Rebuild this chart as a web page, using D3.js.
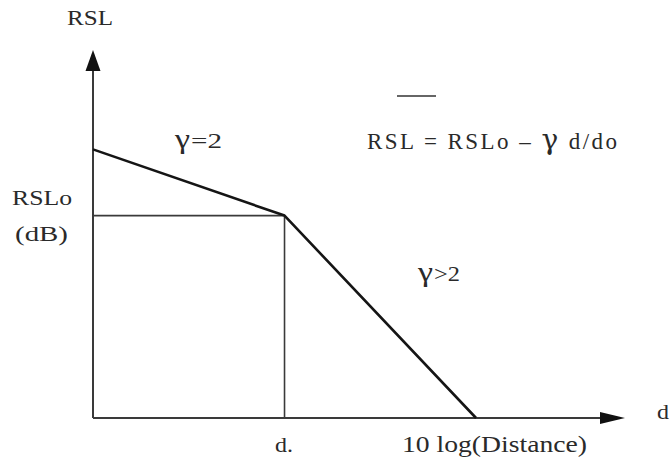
<!DOCTYPE html>
<html>
<head>
<meta charset="utf-8">
<script src="https://cdn.jsdelivr.net/npm/d3@7"></script>
<style>
  html, body { margin: 0; padding: 0; background: #fff; }
  svg { display: block; }
  text { font-family: "Liberation Serif", "Times New Roman", serif; fill: #2a2a2a; }
</style>
</head>
<body>
<svg id="chart" width="670" height="463"></svg>
<script>
// Received signal level vs. 10 log(distance): two-slope path-loss model
const lossCurve = [[0, 73], [36, 55], [72, 0]];       // [distance units, RSL units]
const breakPoint = [36, 55];                            // d0, RSLo
const axisExtent = { x: 100, y: 100 };                  // where the axis arrows end

// Text labels: [text, x, baseline, textLength, fontSize]
const labels = [
  ["RSL", 67, 25, 46, 22],
  ["RSLo", 12, 205, 60, 22],
  ["(dB)", 15, 241, 53, 22],
  ["d.", 275, 452, 18, 22],
  ["10 log(Distance)", 402, 452, 185, 24],
  ["d", 657, 419, 12, 22]
];
// Slope labels: [gamma x, rest, rest x, rest length, baseline]
const slopeLabels = [
  [175, "=2", 191, 31, 148],
  [418, ">2", 434, 26, 281]
];
// Formula pieces (gamma drawn larger)
const formulaParts = [
  ["RSL = RSLo \u2013 ", false],
  ["\u03B3", true],
  [" d/do", false]
];
const formulaPos = { x: 367, y: 149, length: 250 };

const svg = d3.select("#chart");
const x = d3.scaleLinear().domain([0, axisExtent.x]).range([93, 625]);
const y = d3.scaleLinear().domain([0, axisExtent.y]).range([418, 50]);

const axisColor = "#3a3a3a";

// axes
svg.append("line")
  .attr("x1", x(0)).attr("y1", y(0)).attr("x2", x(axisExtent.x) - 20).attr("y2", y(0))
  .attr("stroke", axisColor).attr("stroke-width", 2);
svg.append("line")
  .attr("x1", x(0)).attr("y1", y(0)).attr("x2", x(0)).attr("y2", y(axisExtent.y) + 18)
  .attr("stroke", axisColor).attr("stroke-width", 2);

// arrowheads
const xt = x(axisExtent.x), yt = y(axisExtent.y);
svg.append("path")
  .attr("d", `M${xt},${y(0)} L${xt - 25},${y(0) - 6} L${xt - 25},${y(0) + 6} Z`)
  .attr("fill", "#111");
svg.append("path")
  .attr("d", `M${x(0)},${yt} L${x(0) - 7.5},${yt + 21} L${x(0) + 7.5},${yt + 21} Z`)
  .attr("fill", "#111");

// reference lines to the break point
svg.append("line")
  .attr("x1", x(0)).attr("y1", y(breakPoint[1]))
  .attr("x2", x(breakPoint[0])).attr("y2", y(breakPoint[1]))
  .attr("stroke", axisColor).attr("stroke-width", 1.6);
svg.append("line")
  .attr("x1", x(breakPoint[0])).attr("y1", y(breakPoint[1]))
  .attr("x2", x(breakPoint[0])).attr("y2", y(0))
  .attr("stroke", axisColor).attr("stroke-width", 1.6);

// path-loss curve
const line = d3.line().x(d => x(d[0])).y(d => y(d[1]));
svg.append("path")
  .datum(lossCurve)
  .attr("d", line)
  .attr("fill", "none")
  .attr("stroke", "#151515")
  .attr("stroke-width", 2.6)
  .attr("stroke-linejoin", "round");

// labels
svg.selectAll("text.lbl")
  .data(labels)
  .join("text")
  .attr("class", "lbl")
  .attr("x", d => d[1]).attr("y", d => d[2])
  .attr("textLength", d => d[3])
  .attr("lengthAdjust", "spacingAndGlyphs")
  .attr("font-size", d => d[4])
  .text(d => d[0]);

// slope labels: large gamma followed by the comparison
slopeLabels.forEach(s => {
  svg.append("text")
    .attr("x", s[0]).attr("y", s[4])
    .attr("font-size", 28)
    .attr("font-family", "'DejaVu Serif', serif")
    .attr("textLength", 15)
    .attr("lengthAdjust", "spacingAndGlyphs")
    .text("\u03B3");
  svg.append("text")
    .attr("x", s[2]).attr("y", s[4])
    .attr("font-size", 22)
    .attr("textLength", s[3])
    .attr("lengthAdjust", "spacingAndGlyphs")
    .text(s[1]);
});

// formula
const ft = svg.append("text")
  .attr("x", formulaPos.x).attr("y", formulaPos.y)
  .attr("font-size", 23)
  .attr("textLength", formulaPos.length)
  .attr("lengthAdjust", "spacing");
ft.selectAll("tspan")
  .data(formulaParts)
  .join("tspan")
  .attr("font-size", d => d[1] ? 28 : 23)
  .attr("font-family", d => d[1] ? "'DejaVu Serif', serif" : null)
  .text(d => d[0]);

// overline bar above the formula
svg.append("line")
  .attr("x1", 397).attr("y1", 96).attr("x2", 436).attr("y2", 96)
  .attr("stroke", "#333").attr("stroke-width", 1.3);
</script>
</body>
</html>
